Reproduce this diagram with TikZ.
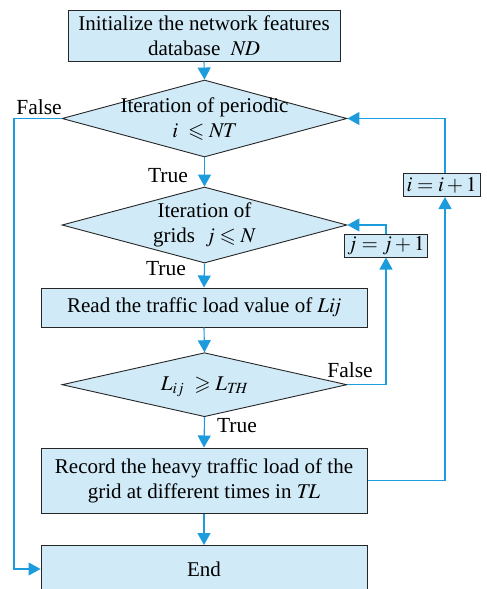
\documentclass[tikz,border=0pt]{standalone}
\usepackage{amssymb}
\usepackage{mathptmx}
\usepackage{fontspec}
\setmainfont{Liberation Serif}
\usetikzlibrary{arrows.meta,shapes.geometric,calc}
\definecolor{boxfill}{RGB}{208,234,247}
\definecolor{flow}{RGB}{28,156,220}
\tikzset{
  pbox/.style={draw=black!85, line width=1pt, fill=boxfill, inner sep=0pt, align=center,
    font=\fontsize{21}{25}\selectfont},
  dia/.style={diamond, draw=black!85, line width=0.9pt, fill=boxfill, inner sep=0pt},
  dtext/.style={align=center, font=\fontsize{21}{25}\selectfont, inner sep=0pt},
  flowline/.style={draw=flow, line width=1.1pt},
  arr/.style={flowline, -{Triangle[width=13pt,length=12pt]}},
  lbl/.style={font=\fontsize{21.5}{24}\selectfont, inner sep=0pt},
}
\begin{document}
\begin{tikzpicture}[x=1pt,y=-1pt]
\useasboundingbox (0,0) rectangle (487,589);
% nodes
\node[pbox, minimum width=272pt, minimum height=51pt] (init) at (204,35.5)
  {Initialize the network features\\database\enspace$\mathit{ND}$};
\node[dia, minimum width=285pt, minimum height=77pt] (d1) at (204.5,118.5) {};
\node[dtext] (d1t) at (204.5,119) {Iteration of periodic\\$i\ \leqslant \mathit{NT}$};
\node[dia, minimum width=285pt, minimum height=76pt] (d2) at (204.5,225) {};
\node[dtext] (d2t) at (204.5,225) {Iteration of\\grids\enspace$j \leqslant N$};
\node[pbox, minimum width=83pt, minimum height=23pt] (jbox) at (386,245.5) {$j = j + 1$};
\node[pbox, minimum width=77pt, minimum height=23pt] (ibox) at (441.7,185) {$i = i + 1$};
\node[pbox, minimum width=326pt, minimum height=39pt] (read) at (204,307.5)
  {Read the traffic load value of $\mathit{Lij}$};
\node[dia, minimum width=285pt, minimum height=64pt] (d3) at (204.5,384.7) {};
\node[dtext] (d3t) at (204.5,387) {$L_{ij}\ \geqslant L_{\mathit{TH}}$};
\node[pbox, minimum width=326pt, minimum height=65pt] (rec) at (204,480.5)
  {Record the heavy traffic load of the\\grid at different times in $\mathit{TL}$};
\node[pbox, minimum width=326pt, minimum height=47pt] (endb) at (204,569) {End};
% labels
\node[lbl] (lf1) at (39,107) {False};
\node[lbl] (lt1) at (168,176) {True};
\node[lbl] (lt2) at (166,269) {True};
\node[lbl] (lf2) at (350,370) {False};
\node[lbl] (lt3) at (237,426) {True};
% helper coordinates
\coordinate (lx) at (14,0);
\coordinate (ix) at (445,0);
% connectors
\draw[arr] (init.south) -- (d1.north);
\draw[arr] (d1.south) -- (d2.north);
\draw[arr] (d2.south) -- (read.north);
\draw[arr] (read.south) -- (d3.north);
\draw[arr] (d3.south) -- (rec.north);
\draw[arr] (rec.south) -- (endb.north);
\draw[arr] (d1.west) -| (lx |- endb.west) -- (endb.west);
\draw[arr] (jbox.north) |- (d2.east);
\draw[arr] (d3.east) -| (jbox.south);
\draw[arr] (ix |- ibox.north) |- (d1.east);
\draw[arr] (rec.east) -| (ix |- ibox.south);
\end{tikzpicture}
\end{document}
